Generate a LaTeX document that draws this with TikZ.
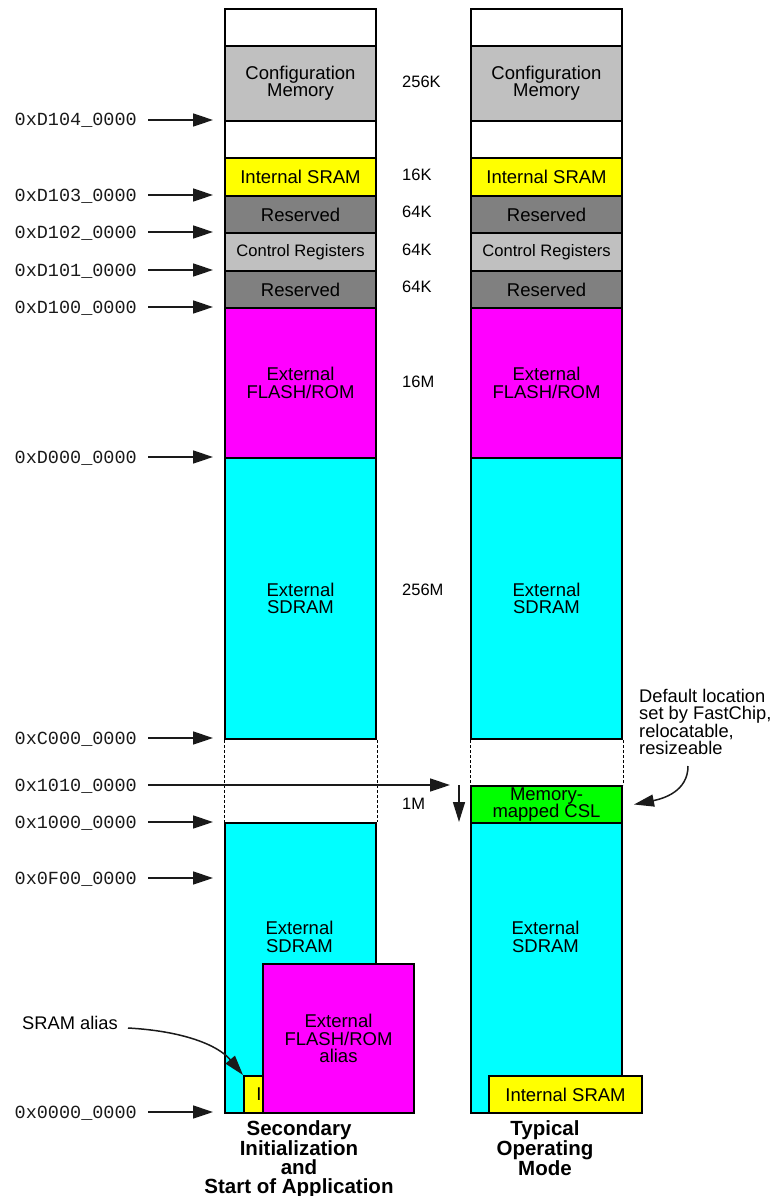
\documentclass[tikz,border=0pt]{standalone}
\usepackage{fontspec}
\setmainfont{Liberation Sans}
\newfontfamily\addrfont{Liberation Mono}
\usetikzlibrary{arrows.meta}
\definecolor{cfggray}{HTML}{C0C0C0}
\definecolor{resgray}{HTML}{808080}
\definecolor{sramyellow}{HTML}{FFFF00}
\definecolor{flashmag}{HTML}{FF00FF}
\definecolor{sdramcyan}{HTML}{00FFFF}
\definecolor{cslgreen}{HTML}{00FF00}
\definecolor{arrowgray}{HTML}{1A1A1A}
\begin{document}
\begin{tikzpicture}[x=1pt,y=-1pt,
  mem/.style={draw=black, line width=2pt, inner sep=0pt, minimum width=151pt,
    anchor=north west, align=center, font=\fontsize{18.5}{17.3}\selectfont},
  lbl/.style={inner sep=0pt, align=center, font=\fontsize{18.5}{17.3}\selectfont},
  addr/.style={anchor=east, inner sep=0pt, text height=12pt, text depth=0pt,
    font=\addrfont\fontsize{18.5}{18.5}\selectfont, text=arrowgray},
  addrarrow/.style={draw=arrowgray, line width=1.5pt,
    -{Triangle[length=20pt,width=13pt]}, shorten <=11pt, shorten >=11pt},
  plainarrow/.style={draw=arrowgray, line width=1.5pt,
    -{Triangle[length=20pt,width=12pt]}},
  sizelbl/.style={anchor=west, inner sep=0pt, font=\fontsize{16.5}{16.5}\selectfont},
  note/.style={inner sep=0pt, align=left, font=\fontsize{18.3}{17}\selectfont},
  title/.style={inner sep=0pt, align=center, anchor=north,
    font=\bfseries\fontsize{20.5}{19}\selectfont},
  dashline/.style={draw=black, line width=1pt, dash pattern=on 3pt off 2pt}
]
\useasboundingbox (0,0) rectangle (777,1196);

% ---------- left column ----------
\node[mem, minimum height=37pt] (Ltop) at (224,8) {};
\node[mem, fill=cfggray, minimum height=75pt] (Lcfg) at (224,45) {Configuration\\Memory};
\node[mem, minimum height=37pt] (Lgap) at (224,120) {};
\node[mem, fill=sramyellow, minimum height=38pt] (Lsram) at (224,157) {Internal SRAM};
\node[mem, fill=resgray, minimum height=37pt] (Lres1) at (224,195) {Reserved};
\node[mem, fill=cfggray, minimum height=38pt, font=\fontsize{16.6}{16.6}\selectfont] (Lctl) at (224,232) {Control Registers};
\node[mem, fill=resgray, minimum height=37pt] (Lres0) at (224,270) {Reserved};
\node[mem, fill=flashmag, minimum height=150pt] (Lflash) at (224,307) {External\\FLASH/ROM};
\node[mem, fill=sdramcyan, minimum height=281pt] (Lsdram) at (224,457) {External\\SDRAM};
\node[mem, fill=sdramcyan, minimum height=290pt] (Lsdlow) at (224,822) {};
\node[lbl] (LsdlowT) at (299.5,937) {External\\SDRAM};
\node[mem, fill=sramyellow, minimum width=153pt, minimum height=37pt] (Lsralias) at (243,1075) {};
\node[lbl] (LsraliasT) at (316.5,1093.5) {Internal SRAM};
\node[mem, fill=flashmag, minimum height=149pt] (Lflalias) at (262,963) {External\\FLASH/ROM\\alias};

% ---------- right column ----------
\node[mem, minimum height=37pt] (Rtop) at (470,8) {};
\node[mem, fill=cfggray, minimum height=75pt] (Rcfg) at (470,45) {Configuration\\Memory};
\node[mem, minimum height=37pt] (Rgap) at (470,120) {};
\node[mem, fill=sramyellow, minimum height=38pt] (Rsram) at (470,157) {Internal SRAM};
\node[mem, fill=resgray, minimum height=37pt] (Rres1) at (470,195) {Reserved};
\node[mem, fill=cfggray, minimum height=38pt, font=\fontsize{16.6}{16.6}\selectfont] (Rctl) at (470,232) {Control Registers};
\node[mem, fill=resgray, minimum height=37pt] (Rres0) at (470,270) {Reserved};
\node[mem, fill=flashmag, minimum height=150pt] (Rflash) at (470,307) {External\\FLASH/ROM};
\node[mem, fill=sdramcyan, minimum height=281pt] (Rsdram) at (470,457) {External\\SDRAM};
\node[mem, fill=cslgreen, minimum height=37pt] (Rcsl) at (470,785) {Memory-\\mapped CSL};
\node[mem, fill=sdramcyan, minimum height=290pt] (Rsdlow) at (470,822) {};
\node[lbl] (RsdlowT) at (545.5,937) {External\\SDRAM};
\node[mem, fill=sramyellow, minimum width=153pt, minimum height=37pt] (Rsrlow) at (488,1075) {Internal SRAM};

% ---------- dashed gaps ----------
\draw[dashline] (Lsdram.south west) -- (Lsdlow.north west);
\draw[dashline] (Lsdram.south east) -- (Lsdlow.north east);
\draw[dashline] (Rsdram.south west) -- (Rcsl.north west);
\draw[dashline] (Rsdram.south east) -- (Rcsl.north east);

% ---------- sizes ----------
\node[sizelbl] (s256k) at (402,82) {256K};
\node[sizelbl] (s16k) at (402,175) {16K};
\node[sizelbl] (s64a) at (402,212) {64K};
\node[sizelbl] (s64b) at (402,250) {64K};
\node[sizelbl] (s64c) at (402,287) {64K};
\node[sizelbl] (s16m) at (402,382) {16M};
\node[sizelbl] (s256m) at (402,590) {256M};
\node[sizelbl] (s1m) at (402,804) {1M};

% ---------- addresses ----------
\node[addr] (aD104) at (137,120) {0xD104\_0000};
\node[addr] (aD103) at (137,195) {0xD103\_0000};
\node[addr] (aD102) at (137,232) {0xD102\_0000};
\node[addr] (aD101) at (137,270) {0xD101\_0000};
\node[addr] (aD100) at (137,307) {0xD100\_0000};
\node[addr] (aD000) at (137,457) {0xD000\_0000};
\node[addr] (aC000) at (137,738) {0xC000\_0000};
\node[addr] (a1010) at (137,785) {0x1010\_0000};
\node[addr] (a1000) at (137,822) {0x1000\_0000};
\node[addr] (a0F00) at (137,878) {0x0F00\_0000};
\node[addr] (a0000) at (137,1112) {0x0000\_0000};

\draw[addrarrow] (aD104.east) -- (aD104.east -| Lcfg.west);
\draw[addrarrow] (aD103.east) -- (aD103.east -| Lcfg.west);
\draw[addrarrow] (aD102.east) -- (aD102.east -| Lcfg.west);
\draw[addrarrow] (aD101.east) -- (aD101.east -| Lcfg.west);
\draw[addrarrow] (aD100.east) -- (aD100.east -| Lcfg.west);
\draw[addrarrow] (aD000.east) -- (aD000.east -| Lcfg.west);
\draw[addrarrow] (aC000.east) -- (aC000.east -| Lcfg.west);
\draw[addrarrow] (a1000.east) -- (a1000.east -| Lcfg.west);
\draw[addrarrow] (a0F00.east) -- (a0F00.east -| Lcfg.west);
\draw[addrarrow] (a0000.east) -- (a0000.east -| Lcfg.west);

\coordinate (cslin) at (450,785);
\draw[addrarrow, shorten >=0pt] (a1010.east) -- (cslin);
\coordinate (onemtop) at (459,785);
\draw[plainarrow] (onemtop) -- (onemtop |- Rsdlow.north);

% ---------- annotations ----------
\node[note, anchor=north west] (defnote) at (639,689) {Default location\\set by FastChip,\\relocatable,\\resizeable};
\coordinate (notetail) at (688,766);
\draw[plainarrow] (notetail) .. controls +(0,25) and +(30,-6) .. ([xshift=11pt]Rcsl.east);

\node[note, anchor=west] (sramlbl) at (22,1023) {SRAM alias};
\coordinate (sramtail) at (128,1028);
\draw[plainarrow] (sramtail) .. controls +(55,3) and +(-25,-30) .. (Lsralias.north west);

% ---------- titles ----------
\node[title] (Ltitle) at (299,1120) {Secondary\\Initialization\\and\\Start of Application};
\node[title] (Rtitle) at (545,1120) {Typical\\Operating\\Mode};
\end{tikzpicture}
\end{document}
